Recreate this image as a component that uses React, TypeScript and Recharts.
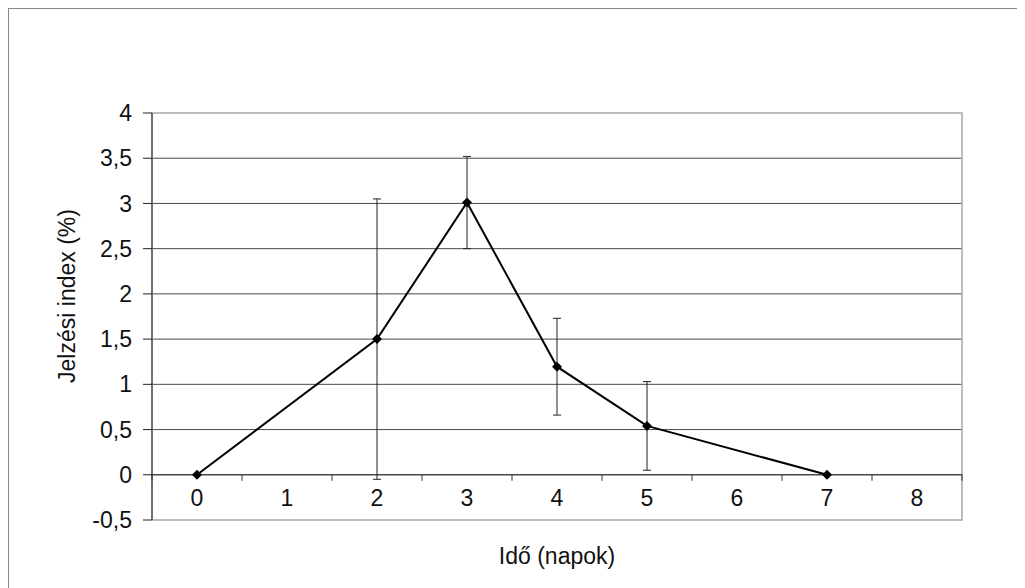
import { LineChart, Line, XAxis, YAxis, CartesianGrid, ErrorBar, ReferenceLine, ReferenceArea } from 'recharts';

// days on the category axis (1, 6 and 8 have no measurement)
const DAYS = [0, 1, 2, 3, 4, 5, 6, 7, 8];
const INDEX_VALUES = [0, null, 1.5, 3.01, 1.195, 0.54, null, 0, null];
const INDEX_ERRORS = [null, null, 1.55, 0.51, 0.535, 0.49, null, null, null];

const Y_TICKS = [-0.5, 0, 0.5, 1, 1.5, 2, 2.5, 3, 3.5, 4];
const GRID_VALUES = [0, 0.5, 1, 1.5, 2, 2.5, 3, 3.5];
const BOUNDARIES = [-0.5, 0.5, 1.5, 2.5, 3.5, 4.5, 5.5, 6.5, 7.5, 8.5];

const data = DAYS.map((d, i) => ({ day: d, value: INDEX_VALUES[i], err: INDEX_ERRORS[i] }));

const W = 1016;
const H = 579;
const margin = { top: 104, right: 63, bottom: 0, left: 83 };
const X_AXIS_H = 68;
const Y_AXIS_W = 60;
const PLOT_TOP = margin.top;
const PLOT_H = H - margin.top - X_AXIS_H;
const Y_MIN = -0.5;
const Y_MAX = 4;
const yZero = PLOT_TOP + (PLOT_H * (Y_MAX - 0)) / (Y_MAX - Y_MIN);
const yBottom = PLOT_TOP + PLOT_H;
const FONT = 23;

const fmt = (v: number) => String(v).replace('.', ',');

function XTick(props: any) {
  const { x, payload } = props;
  const v = payload.value;
  if (Number.isInteger(v)) {
    return (
      <text x={x} y={(yZero + yBottom) / 2} dy="0.36em" textAnchor="middle" fontSize={FONT} fill="#111">
        {v}
      </text>
    );
  }
  return <line x1={x} x2={x} y1={yZero} y2={yZero + 6} stroke="#333" strokeWidth={1} />;
}

function Diamond(props: any) {
  const { cx, cy, value } = props;
  if (value == null || cx == null || cy == null) return null;
  const r = 5;
  return (
    <polygon
      key={`d-${cx}`}
      points={`${cx},${cy - r} ${cx + r},${cy} ${cx},${cy + r} ${cx - r},${cy}`}
      fill="#000"
    />
  );
}

export default function App() {
  return (
    <div
      style={{
        width: 1017,
        height: 580,
        borderLeft: '1px solid #8a8a8a',
        borderTop: '1px solid #8a8a8a',
        boxSizing: 'border-box',
        fontFamily: 'Arial, "Liberation Sans", sans-serif',
        background: '#fff',
      }}
    >
      <LineChart width={W} height={H} data={data} margin={margin}>
        <ReferenceArea x1={-0.5} x2={8.5} y1={-0.5} y2={4} fill="none" stroke="#a8a8a8" strokeWidth={1.5} ifOverflow="visible" />
        <CartesianGrid vertical={false} horizontalValues={GRID_VALUES} stroke="#4a4a4a" strokeWidth={1} />
        <XAxis
          dataKey="day"
          type="number"
          domain={[-0.5, 8.5]}
          ticks={[...DAYS, ...BOUNDARIES]}
          interval={0}
          axisLine={false}
          tickLine={false}
          tickSize={0}
          tickMargin={0}
          height={X_AXIS_H}
          tick={<XTick />}
          label={{
            content: () => (
              <text x={margin.left + Y_AXIS_W + (W - margin.left - Y_AXIS_W - margin.right) / 2} y={H - 24} textAnchor="middle" fontSize={FONT} fill="#111">
                Idő (napok)
              </text>
            ),
          }}
        />
        <YAxis
          type="number"
          domain={[Y_MIN, Y_MAX]}
          ticks={Y_TICKS}
          interval={0}
          width={Y_AXIS_W}
          tickFormatter={fmt}
          tickSize={9}
          tickMargin={11}
          axisLine={{ stroke: '#222', strokeWidth: 1 }}
          tickLine={{ stroke: '#222', strokeWidth: 1 }}
          tick={{ fill: '#111', fontSize: FONT }}
          label={{
            content: () => (
              <text
                x={0}
                y={0}
                transform={`translate(66, 287) rotate(-90)`}
                textAnchor="middle"
                fontSize={FONT}
                fill="#111"
              >
                Jelzési index (%)
              </text>
            ),
          }}
        />
        <ReferenceLine y={0} stroke="#333" strokeWidth={1} />
        <Line
          type="linear"
          dataKey="value"
          stroke="#000"
          strokeWidth={2}
          connectNulls
          dot={<Diamond />}
          activeDot={false}
          isAnimationActive={false}
        >
          <ErrorBar dataKey="err" direction="y" width={4} stroke="#222" strokeWidth={1} />
        </Line>
      </LineChart>
    </div>
  );
}
